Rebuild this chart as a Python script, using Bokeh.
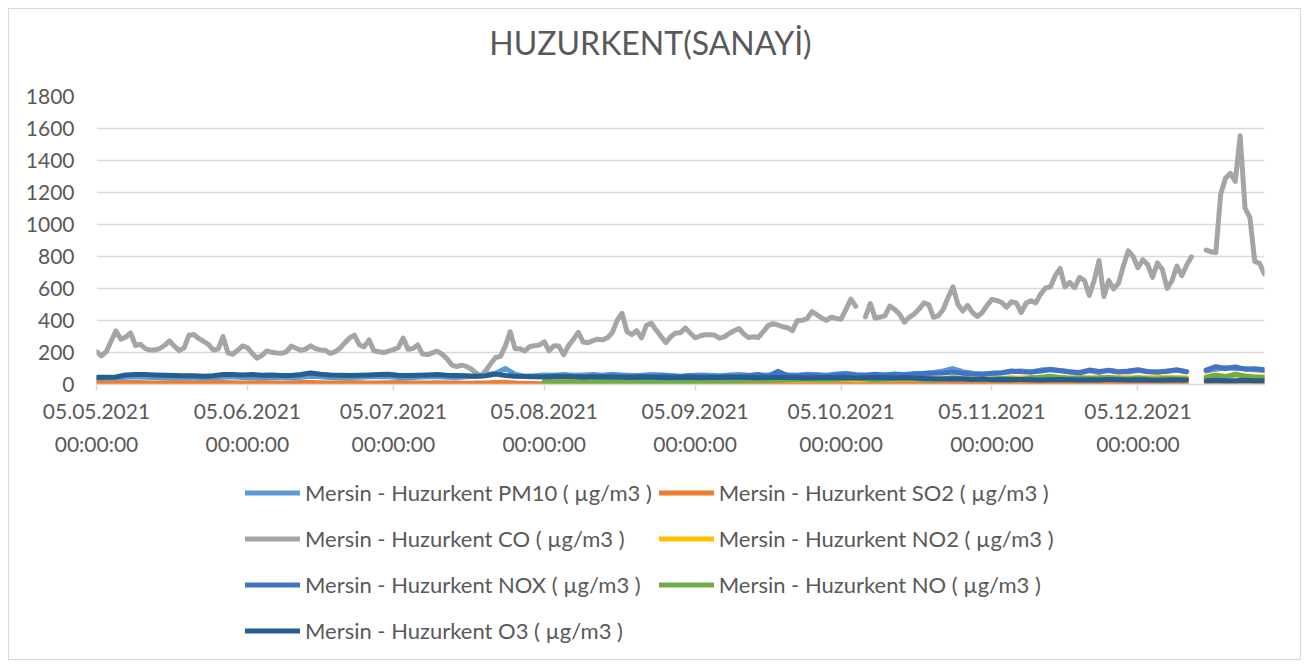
import pandas as pd
from bokeh.plotting import figure
from bokeh.layouts import column
from bokeh.models import Range1d, FixedTicker, Legend, LegendItem, ColumnDataSource, Label
from bokeh.embed import file_html
from bokeh.resources import INLINE

nan = float("nan")

# ---------------- data ----------------
start_date = "2021-05-05"
end_date = "2021-12-31"
co_dates = pd.date_range(start_date, end_date, freq="D")        # daily CO readings
pol_dates = pd.date_range(start_date, end_date, freq="2D")      # other pollutants

co = [
    205, 180, 205, 270, 335, 283, 296, 323, 244, 252,
    225, 215, 215, 225, 245, 272, 240, 212, 229, 308,
    312, 288, 269, 250, 216, 221, 299, 198, 189, 214,
    241, 230, 194, 165, 181, 210, 201, 197, 195, 204,
    240, 227, 214, 221, 242, 224, 216, 214, 194, 204,
    226, 259, 291, 309, 249, 235, 279, 211, 205, 200,
    208, 218, 230, 290, 220, 225, 247, 190, 187, 198,
    208, 190, 162, 122, 112, 121, 113, 97, 72, 52,
    86, 130, 169, 176, 240, 330, 224, 224, 209, 236,
    243, 247, 267, 211, 242, 240, 185, 244, 282, 326,
    265, 261, 274, 283, 279, 292, 325, 402, 445, 330,
    312, 336, 291, 370, 383, 340, 300, 262, 299, 322,
    324, 353, 322, 292, 303, 311, 311, 309, 290, 298,
    319, 336, 350, 316, 293, 298, 294, 330, 368, 380,
    372, 361, 355, 336, 400, 401, 411, 455, 436, 416,
    401, 421, 412, 408, 470, 534, 489, nan, 423, 506,
    415, 422, 429, 490, 470, 440, 390, 420, 440, 470,
    510, 500, 420, 430, 470, 545, 610, 500, 460, 495,
    450, 425, 450, 495, 532, 525, 513, 483, 517, 510,
    450, 508, 523, 510, 565, 603, 610, 680, 725, 610,
    638, 605, 670, 650, 557, 650, 775, 550, 650, 597,
    632, 740, 835, 800, 730, 780, 750, 670, 760, 720,
    600, 650, 740, 680, 745, 798, nan, nan, 840, 830,
    825, 1190, 1290, 1320, 1269, 1554, 1102, 1044, 769, 756,
    690,
]

pm10 = [
    35, 36, 38, 45, 48, 46, 44, 42, 40, 42,
    40, 38, 42, 46, 48, 44, 46, 42, 45, 44,
    42, 46, 52, 48, 44, 42, 44, 46, 48, 50,
    48, 44, 42, 46, 48, 50, 46, 44, 48, 52,
    62, 70, 100, 65, 52, 55, 60, 58, 62, 58,
    60, 62, 58, 64, 60, 56, 58, 62, 60, 56,
    52, 56, 60, 58, 55, 60, 62, 58, 56, 60,
    62, 60, 58, 64, 62, 58, 66, 70, 62, 60,
    64, 60, 66, 62, 68, 70, 75, 85, 100, 80,
    70, 65, 68, 72, 80, 85, 78, 90, 95, 88,
    80, 72, 85, 75, 90, 80, 78, 88, 82, 76,
    85, 92, 80, nan, 85, 95, 105, 100, 98, 92,
    88,
]

so2 = [
    10, 10, 11, 12, 12, 11, 10, 11, 12, 11,
    10, 11, 12, 12, 11, 10, 11, 12, 11, 10,
    11, 12, 12, 11, 10, 11, 12, 11, 10, 10,
    11, 12, 11, 10, 10, 11, 10, 9, 8, 9,
    10, 12, 14, 10, 8, 6, 5, 6, 5, 5,
    4, 5, 6, 5, 4, 5, 6, 5, 4, 5,
    5, 4, 5, 6, 5, 4, 5, 6, 5, 4,
    5, 6, 5, 4, 5, 6, 8, 5, 4, 5,
    6, 5, 4, 5, 6, 5, 4, 5, 6, 5,
    4, 5, 6, 5, 4, 5, 4, 5, 6, 5,
    4, 5, 6, 5, 4, 5, 6, 5, 4, 5,
    4, 5, 6, nan, 4, 5, 6, 5, 4, 5,
    4,
]

no2 = [nan] * 46 + [
    30, 32, 28, 26,
    28, 30, 26, 28, 30, 28, 26, 28, 30, 28,
    26, 28, 30, 28, 26, 28, 30, 28, 30, 28,
    30, 28, 26, 30, 28, 26, 30, 32, 28, 30,
    32, 30, 34, 32, 36, 34, 38, 36, 40, 38,
    36, 38, 40, 38, 42, 40, 44, 42, 40, 44,
    42, 40, 44, 42, 46, 44, 42, 44, 42, 44,
    46, 44, 42, nan, 50, 58, 52, 60, 54, 50,
    48,
]

nox = [nan] * 46 + [
    50, 55, 52, 50,
    48, 52, 50, 54, 50, 48, 52, 50, 54, 52,
    50, 54, 52, 50, 48, 52, 50, 56, 62, 52,
    82, 56, 54, 58, 56, 52, 60, 64, 58, 56,
    62, 58, 64, 60, 66, 68, 70, 72, 78, 70,
    66, 64, 70, 74, 85, 80, 78, 85, 92, 86,
    78, 75, 90, 82, 88, 78, 84, 92, 80, 78,
    82, 90, 80, nan, 90, 112, 100, 110, 96, 98,
    92,
]

no = [nan] * 46 + [
    16, 15, 14, 16,
    15, 16, 18, 15, 14, 16, 18, 17, 16, 18,
    20, 18, 22, 24, 22, 20, 24, 26, 28, 25,
    28, 30, 32, 34, 30, 28, 32, 36, 40, 34,
    30, 32, 36, 34, 38, 30, 28, 36, 42, 38,
    34, 30, 34, 38, 36, 32, 40, 46, 52, 44,
    38, 42, 36, 40, 44, 38, 34, 40, 36, 34,
    38, 36, 34, nan, 42, 58, 48, 64, 52, 46,
    42,
]

o3 = [
    45, 45, 47, 60, 63, 62, 60, 58, 56, 55,
    54, 52, 55, 62, 63, 60, 62, 58, 60, 57,
    56, 62, 72, 64, 60, 58, 56, 58, 60, 62,
    64, 58, 56, 58, 60, 62, 58, 56, 54, 52,
    55, 65, 56, 52, 50, 48, 47, 48, 50, 48,
    46, 48, 47, 45, 46, 44, 47, 46, 44, 42,
    44, 46, 42, 44, 43, 46, 45, 44, 42, 44,
    46, 44, 42, 40, 42, 44, 42, 44, 40, 42,
    44, 42, 40, 44, 40, 38, 36, 34, 36, 34,
    32, 34, 30, 32, 30, 32, 30, 28, 30, 32,
    30, 28, 30, 28, 32, 30, 28, 30, 28, 26,
    28, 30, 28, nan, 24, 26, 24, 24, 26, 24,
    24,
]

chart_title = "HUZURKENT(SANAYİ)"
series_names = [
    "Mersin - Huzurkent PM10 ( µg/m3 )",
    "Mersin - Huzurkent SO2 ( µg/m3 )",
    "Mersin - Huzurkent CO ( µg/m3 )",
    "Mersin - Huzurkent NO2 ( µg/m3 )",
    "Mersin - Huzurkent NOX ( µg/m3 )",
    "Mersin - Huzurkent NO ( µg/m3 )",
    "Mersin - Huzurkent O3 ( µg/m3 )",
]
series_colors = ["#5B9BD5", "#ED7D31", "#A5A5A5", "#FFC000", "#4472C4", "#70AD47", "#255E91"]

tick_dates = ["2021-05-05", "2021-06-05", "2021-07-05", "2021-08-05",
              "2021-09-05", "2021-10-05", "2021-11-05", "2021-12-05"]
tick_labels = ["05.05.2021\n00:00:00", "05.06.2021\n00:00:00", "05.07.2021\n00:00:00",
               "05.08.2021\n00:00:00", "05.09.2021\n00:00:00", "05.10.2021\n00:00:00",
               "05.11.2021\n00:00:00", "05.12.2021\n00:00:00"]
y_ticks = [0, 200, 400, 600, 800, 1000, 1200, 1400, 1600, 1800]

# ---------------- common settings ----------------
t0 = pd.Timestamp(start_date)
co_x = [(d - t0).days for d in co_dates]
pol_x = [(d - t0).days for d in pol_dates]
tick_x = [(pd.Timestamp(d) - t0).days for d in tick_dates]
end_x = (pd.Timestamp(end_date) - t0).days

FONT = "Lato"
GREY_TXT = "#595959"
FRAME_W = 1168
LEFT, RIGHT = 87, 36


def blank(fig):
    fig.outline_line_color = None
    fig.background_fill_color = "white"
    fig.border_fill_color = "white"
    return fig


# ---------------- title strip ----------------
tt = blank(figure(frame_width=FRAME_W, frame_height=75,
                  min_border_left=LEFT, min_border_right=RIGHT,
                  min_border_top=0, min_border_bottom=0,
                  x_range=Range1d(0, 1), y_range=Range1d(0, 1),
                  x_axis_type=None, y_axis_type=None,
                  output_backend="svg", toolbar_location=None))
tt.add_layout(Label(x=554, y=42, x_units="screen", y_units="screen",
                    text=chart_title, text_align="center", text_baseline="middle",
                    text_font=FONT, text_font_size="32px", text_color=GREY_TXT))

# ---------------- main chart ----------------
p = blank(figure(frame_width=FRAME_W, frame_height=288,
                 min_border_left=LEFT, min_border_right=RIGHT,
                 min_border_top=12, min_border_bottom=85,
                 x_range=Range1d(0, end_x), y_range=Range1d(0, 1800),
                 output_backend="svg", toolbar_location=None))

p.yaxis.ticker = FixedTicker(ticks=y_ticks)
p.yaxis.axis_line_color = None
p.yaxis.major_tick_line_color = None
p.yaxis.minor_tick_line_color = None
p.yaxis.major_label_standoff = 16
p.yaxis.major_label_text_font = FONT
p.yaxis.major_label_text_font_size = "21px"
p.yaxis.major_label_text_color = GREY_TXT

p.xaxis.ticker = FixedTicker(ticks=tick_x)
p.xaxis.major_label_overrides = {tx: lab for tx, lab in zip(tick_x, tick_labels)}
p.xaxis.axis_line_color = "#D9D9D9"
p.xaxis.axis_line_width = 1.5
p.xaxis.major_tick_line_color = "#D9D9D9"
p.xaxis.major_tick_line_width = 1.5
p.xaxis.major_tick_in = 0
p.xaxis.major_tick_out = 6
p.xaxis.minor_tick_line_color = None
p.xaxis.major_label_standoff = 7
p.xaxis.major_label_text_font = FONT
p.xaxis.major_label_text_font_size = "21px"
p.xaxis.major_label_text_color = GREY_TXT
p.xaxis.major_label_text_line_height = 1.32

p.xgrid.grid_line_color = None
p.ygrid.grid_line_color = "#D9D9D9"
p.ygrid.grid_line_width = 1.5

values = [pm10, so2, co, no2, nox, no, o3]
for color, vals in zip(series_colors, values):
    xs = co_x if vals is co else pol_x
    src = ColumnDataSource(data=dict(x=xs, y=vals))
    p.line("x", "y", source=src, line_color=color, line_width=5,
           line_join="round", line_cap="round")

# ---------------- legend strip ----------------
lg = blank(figure(frame_width=FRAME_W, frame_height=190,
                  min_border_left=LEFT, min_border_right=RIGHT,
                  min_border_top=0, min_border_bottom=0,
                  x_range=Range1d(0, 1), y_range=Range1d(0, 1),
                  x_axis_type=None, y_axis_type=None,
                  output_backend="svg", toolbar_location=None))
items = []
for name, color in zip(series_names, series_colors):
    key = lg.line(x=[nan], y=[nan], line_color=color, line_width=5, line_cap="round")
    items.append(LegendItem(label=name, renderers=[key]))

legend = Legend(items=items, orientation="horizontal", ncols=2,
                location=(149, 9),
                label_text_font=FONT, label_text_font_size="22px",
                label_text_color=GREY_TXT,
                glyph_width=55, glyph_height=39, label_height=39,
                label_standoff=5, spacing=7, padding=0, margin=0,
                border_line_color=None, background_fill_alpha=0)
lg.add_layout(legend)

layout = column(tt, p, lg, spacing=0)
layout.margin = (8, 0, 0, 8)
layout.styles = {"border": "1px solid #D9D9D9"}

open("out.html", "w").write(file_html(layout, INLINE))
